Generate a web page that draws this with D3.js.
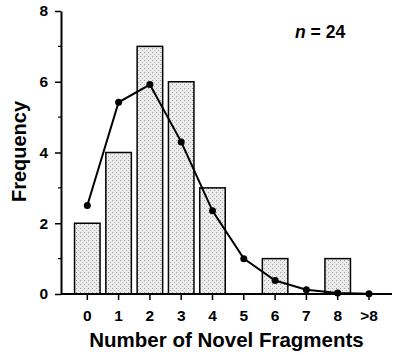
<!DOCTYPE html>
<html>
<head>
<meta charset="utf-8">
<script src="https://cdn.jsdelivr.net/npm/d3@7"></script>
<style>
  body { margin: 0; background: #fff; }
  text { font-family: "Liberation Sans", Arial, sans-serif; font-weight: bold; }
</style>
</head>
<body>
<div id="container"></div>
<script>
/* DATA */
const categories = ["0", "1", "2", "3", "4", "5", "6", "7", "8", ">8"]
const observed = [2, 4, 7, 6, 3, 0, 1, 0, 1, 0]
const expected = [2.5, 5.42, 5.92, 4.3, 2.35, 1.0, 0.38, 0.12, 0.03, 0.01]
const yTicks = [0, 2, 4, 6, 8]
const yMinorTicks = [1, 3, 5, 7]

/* CONSTANTS */
const width = 393,
  height = 355,
  axisX = 61,
  axisY = 294

const svg = d3.select("#container")
  .append("svg")
  .attr("width", width)
  .attr("height", height)

// stipple fill for bars
const pat = svg.append("defs").append("pattern")
  .attr("id", "stipple")
  .attr("patternUnits", "userSpaceOnUse")
  .attr("width", 4)
  .attr("height", 4)
pat.append("rect").attr("width", 4).attr("height", 4).attr("fill", "#ececec")
pat.append("rect").attr("x", 0).attr("y", 0).attr("width", 1).attr("height", 1).attr("fill", "#9a9a9a")
pat.append("rect").attr("x", 2).attr("y", 2).attr("width", 1).attr("height", 1).attr("fill", "#b5b5b5")

// SCALES
const xScale = d3.scaleBand()
  .domain(categories)
  .range([71.65, 384.65])
  .paddingInner(0.185)
  .paddingOuter(0.0925)

const yScale = d3.scaleLinear()
  .domain([0, 8])
  .range([axisY, 11])

// BARS
svg.selectAll("rect.bar")
  .data(categories.map((c, i) => ({ c, v: observed[i] })).filter(d => d.v > 0))
  .join("rect")
  .attr("class", "bar")
  .attr("x", d => xScale(d.c))
  .attr("y", d => yScale(d.v))
  .attr("width", xScale.bandwidth())
  .attr("height", d => yScale(0) - yScale(d.v))
  .attr("fill", "url(#stipple)")
  .attr("stroke", "black")
  .attr("stroke-width", 1.5)

// AXES
const xAxis = d3.axisBottom(xScale).tickSize(6).tickSizeOuter(0).tickPadding(10)
const gx = svg.append("g")
  .attr("transform", `translate(0, ${axisY})`)
  .call(xAxis)
gx.select(".domain").attr("d", `M${axisX},0H392`).attr("stroke-width", 2)
gx.selectAll(".tick line").attr("stroke-width", 1.5)
gx.selectAll(".tick text")
  .style("font-size", "15.5px")
  .style("font-weight", "bold")
  .attr("fill", "black")

const yAxis = d3.axisLeft(yScale).tickValues(yTicks).tickSize(6).tickSizeOuter(0).tickPadding(7)
const gy = svg.append("g")
  .attr("transform", `translate(${axisX}, 0)`)
  .call(yAxis)
gy.select(".domain").attr("stroke-width", 2)
gy.selectAll(".tick line").attr("stroke-width", 1.5)
gy.selectAll(".tick text")
  .style("font-size", "15.5px")
  .style("font-weight", "bold")
  .attr("fill", "black")

gy.selectAll("line.minor")
  .data(yMinorTicks)
  .join("line")
  .attr("class", "minor")
  .attr("x1", -3).attr("x2", 0)
  .attr("y1", d => yScale(d)).attr("y2", d => yScale(d))
  .attr("stroke", "black")
  .attr("stroke-width", 1.2)

// EXPECTED CURVE
const lineGen = d3.line()
  .x((d, i) => xScale(categories[i]) + xScale.bandwidth() / 2)
  .y(d => yScale(d))

svg.append("path")
  .datum(expected)
  .attr("d", lineGen)
  .attr("fill", "none")
  .attr("stroke", "black")
  .attr("stroke-width", 2)

svg.selectAll("circle.pt")
  .data(expected)
  .join("circle")
  .attr("class", "pt")
  .attr("cx", (d, i) => xScale(categories[i]) + xScale.bandwidth() / 2)
  .attr("cy", d => yScale(d))
  .attr("r", 3.5)
  .attr("fill", "black")

// LABELS
svg.append("text")
  .attr("x", 226.5)
  .attr("y", 347)
  .attr("text-anchor", "middle")
  .style("font-size", "20.5px")
  .text("Number of Novel Fragments")

svg.append("text")
  .attr("transform", `translate(26, 151.5) rotate(-90)`)
  .attr("text-anchor", "middle")
  .style("font-size", "20px")
  .text("Frequency")

const nLabel = svg.append("text")
  .attr("x", 295)
  .attr("y", 38)
  .style("font-size", "17.5px")
nLabel.append("tspan").style("font-style", "italic").text("n")
nLabel.append("tspan").text(" = 24")
</script>
</body>
</html>
